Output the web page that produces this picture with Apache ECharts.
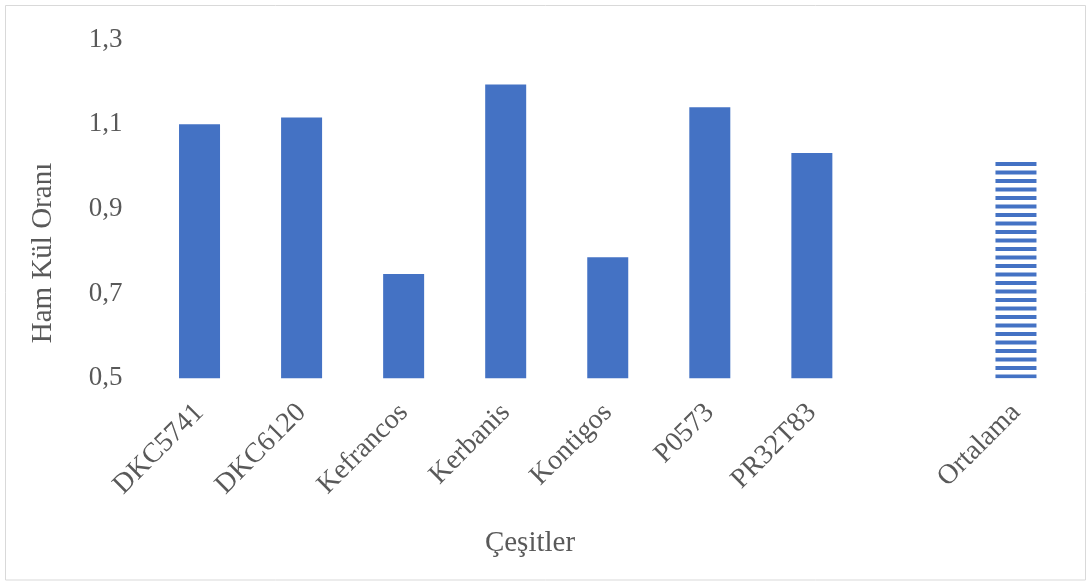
<!DOCTYPE html>
<html>
<head>
<meta charset="utf-8">
<script src="https://cdn.jsdelivr.net/npm/echarts@6/dist/echarts.min.js"></script>
<style>
html,body{margin:0;padding:0;background:#fff;}
#chart{width:1086px;height:581px;}
</style>
</head>
<body>
<div id="chart"></div>
<script>
var categories = ['DKC5741', 'DKC6120', 'Kefrancos', 'Kerbanis', 'Kontigos', 'P0573', 'PR32T83', '', 'Ortalama'];
var values = [1.100, 1.116, 0.746, 1.194, 0.786, 1.140, 1.032, null, 1.016];
var yTicks = [0.5, 0.7, 0.9, 1.1, 1.3];
var yTitle = 'Ham Kül Oranı';
var xTitle = 'Çeşitler';

var FONT = '"Liberation Serif", "Times New Roman", serif';
var TEXT = '#595959';
var BLUE = '#4472C4';

// horizontal stripe pattern for the average bar
var tile = document.createElement('canvas');
tile.width = 8; tile.height = 17;
var tc = tile.getContext('2d');
tc.fillStyle = BLUE;
tc.fillRect(0, 0.5, 8, 4);
tc.fillRect(0, 9, 8, 4);

var barData = values.map(function (v, i) {
  if (v === null) return '-';
  if (categories[i] === 'Ortalama') {
    return { value: v, itemStyle: { color: { image: tile, repeat: 'repeat' } } };
  }
  return v;
});

var chart = echarts.init(document.getElementById('chart'), null, { renderer: 'canvas' });
chart.setOption({
  animation: false,
  backgroundColor: '#ffffff',
  grid: { left: 148.5, right: 19, top: 39.5, bottom: 202.7, containLabel: false },
  xAxis: {
    type: 'category',
    data: categories,
    axisLine: { show: false },
    axisTick: { show: false },
    splitLine: { show: false },
    axisLabel: {
      interval: 0, rotate: 45, margin: 30,
      fontFamily: FONT, fontSize: 28, color: TEXT
    }
  },
  yAxis: {
    type: 'value',
    min: yTicks[0],
    max: yTicks[yTicks.length - 1],
    interval: 0.2,
    axisLine: { show: false },
    axisTick: { show: false },
    splitLine: { show: false },
    axisLabel: {
      margin: 26,
      fontFamily: FONT, fontSize: 27, color: TEXT,
      formatter: function (v) { return (Math.round(v * 10) / 10).toFixed(1).replace('.', ','); }
    }
  },
  series: [{
    type: 'bar',
    data: barData,
    barWidth: 41,
    itemStyle: { color: BLUE },
    clip: true
  }],
  graphic: [
    {
      type: 'rect', silent: true, z: -1,
      shape: { x: 5.5, y: 5.5, width: 1080, height: 574.5 },
      style: { fill: 'none', stroke: '#d9d9d9', lineWidth: 1 }
    },
    {
      type: 'text', x: 43, y: 253, rotation: Math.PI / 2,
      style: { text: yTitle, font: '29px ' + FONT, fill: TEXT, textAlign: 'center', textVerticalAlign: 'middle' }
    },
    {
      type: 'text', x: 530, y: 543,
      style: { text: xTitle, font: '29px ' + FONT, fill: TEXT, textAlign: 'center', textVerticalAlign: 'middle' }
    }
  ]
});
</script>
</body>
</html>
